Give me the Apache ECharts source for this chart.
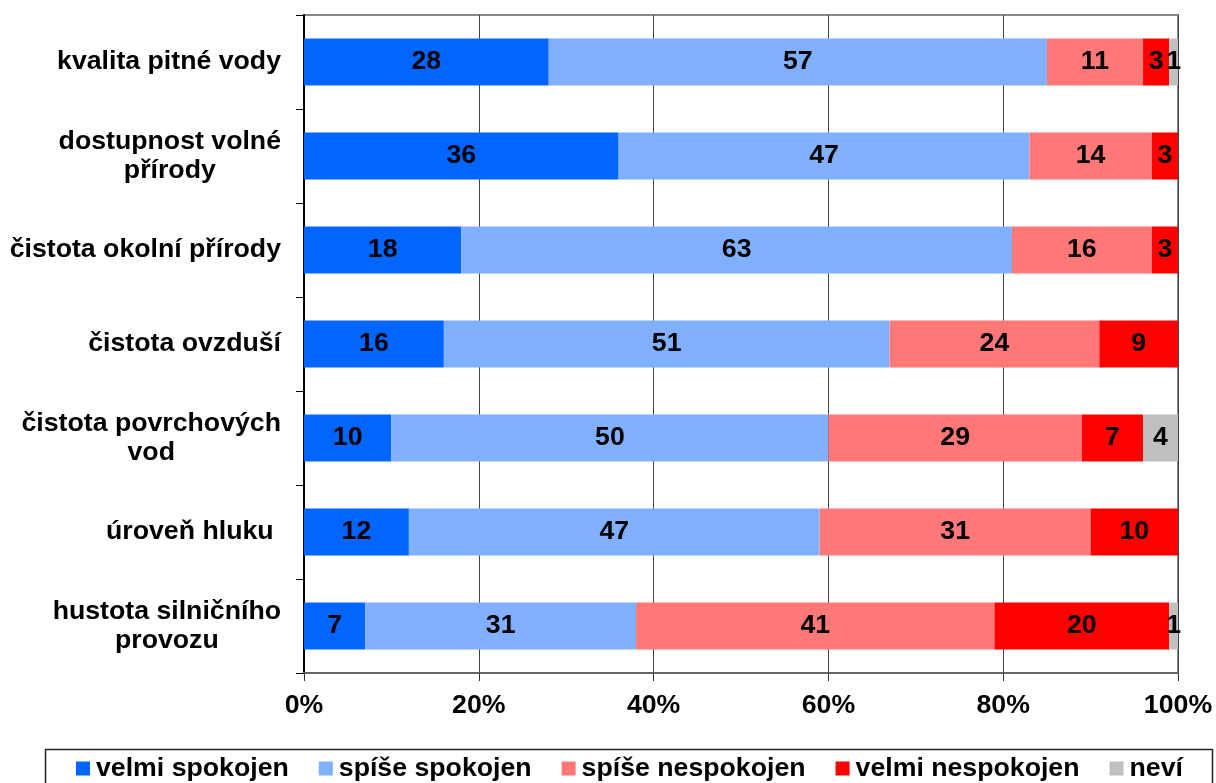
<!DOCTYPE html>
<html>
<head>
<meta charset="utf-8">
<script src="https://cdn.jsdelivr.net/npm/echarts@6/dist/echarts.min.js"></script>
<style>
html,body{margin:0;padding:0;background:#fff;}
#chart{width:1216px;height:783px;}
</style>
</head>
<body>
<div id="chart"></div>
<script>
var categories = [
  "kvalita pitné vody",
  "dostupnost volné\npřírody",
  "čistota okolní přírody",
  "čistota ovzduší",
  "čistota povrchových\nvod",
  "úroveň hluku ",
  "hustota silničního\nprovozu"
];
var seriesNames = ["velmi spokojen", "spíše spokojen", "spíše nespokojen", "velmi nespokojen", "neví"];
var velmiSpokojen   = [28, 36, 18, 16, 10, 12, 7];
var spiseSpokojen   = [57, 47, 63, 51, 50, 47, 31];
var spiseNespokojen = [11, 14, 16, 24, 29, 31, 41];
var velmiNespokojen = [3, 3, 3, 9, 7, 10, 20];
var nevi            = [1, 0, 0, 0, 4, 0, 1];
var xTicks = [0, 20, 40, 60, 80, 100];

var colors = ["#0066ff", "#80b0ff", "#ff7878", "#ff0000", "#c0c0c0"];
var FONT = "'Liberation Sans', Arial, sans-serif";
var FS = 26.7;
var values = [velmiSpokojen, spiseSpokojen, spiseNespokojen, velmiNespokojen, nevi];

var chart = echarts.init(document.getElementById('chart'), null, {renderer: 'canvas'});

var series = seriesNames.map(function (name, i) {
  return {
    name: name,
    type: 'bar',
    stack: 'total',
    barWidth: 47,
    data: values[i],
    itemStyle: {color: colors[i]},
    emphasis: {disabled: true},
    label: {
      show: true,
      position: 'inside',
      color: '#000',
      fontFamily: FONT,
      fontSize: FS,
      fontWeight: 'bold',
      textBorderWidth: 0,
      formatter: function (p) { return p.value ? String(p.value) : ''; }
    }
  };
});

chart.setOption({
  animation: false,
  backgroundColor: '#fff',
  grid: {
    left: 304, right: 38, top: 15, bottom: 110,
    show: true, borderColor: '#888', borderWidth: 2, backgroundColor: 'transparent'
  },
  xAxis: {
    type: 'value',
    min: xTicks[0], max: xTicks[xTicks.length - 1], interval: 20,
    axisLine: {show: true, lineStyle: {color: '#666', width: 2}},
    axisTick: {show: true, length: 8, lineStyle: {color: '#333', width: 1}},
    splitLine: {show: true, lineStyle: {color: '#444', width: 1}},
    axisLabel: {
      margin: 19,
      color: '#000', fontFamily: FONT, fontSize: FS, fontWeight: 'bold',
      formatter: '{value}%'
    }
  },
  yAxis: {
    type: 'category',
    inverse: true,
    data: categories,
    axisLine: {show: true, lineStyle: {color: '#000', width: 2}},
    axisTick: {show: true, length: 8, lineStyle: {color: '#000', width: 1}},
    splitLine: {show: false},
    axisLabel: {
      margin: 23,
      color: '#000', fontFamily: FONT, fontSize: FS, fontWeight: 'bold', lineHeight: 29,
      formatter: function (v) {
        return v.split('\n').map(function (l) { return '{c|' + l + '}'; }).join('\n');
      },
      rich: {
        c: {align: 'center', color: '#000', fontFamily: FONT, fontSize: FS, fontWeight: 'bold', lineHeight: 29}
      }
    }
  },
  legend: {
    data: seriesNames,
    left: 76, top: 755,
    padding: 0,
    icon: 'rect',
    itemWidth: 14, itemHeight: 14, itemGap: 30,
    textStyle: {color: '#000', fontFamily: FONT, fontSize: FS, fontWeight: 'bold', padding: [0, 0, 0, 1]},
    selectedMode: false
  },
  graphic: [{
    type: 'rect',
    left: 43, top: 747,
    shape: {width: 1167, height: 60},
    style: {fill: 'none', stroke: '#222', lineWidth: 1.5},
    silent: true
  }],
  series: series
});
</script>
</body>
</html>
